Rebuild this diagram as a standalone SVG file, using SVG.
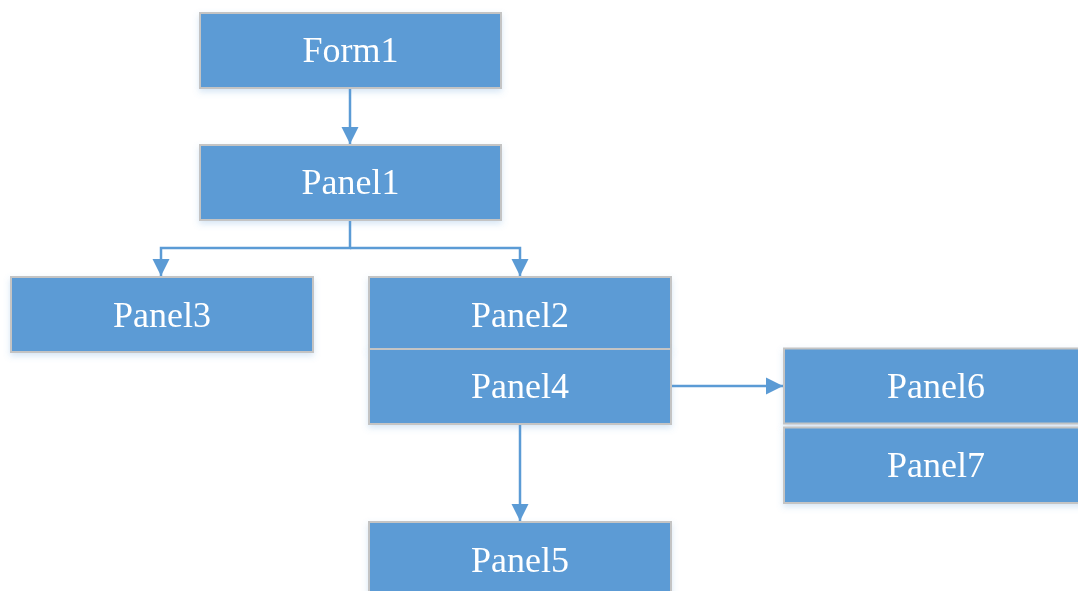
<svg xmlns="http://www.w3.org/2000/svg" width="1078" height="591" viewBox="0 0 1078 591">
<style>
.box{fill:#5B9BD5;stroke:#C4C4C4;stroke-width:2}
.lbl{font-family:"Liberation Serif","Times New Roman",serif;font-size:36px;fill:#FFFFFF;text-anchor:middle}
.conn{fill:none;stroke:#5B9BD5;stroke-width:2.5}
</style>
<defs>
<filter id="sh" x="-10%" y="-20%" width="120%" height="150%">
<feDropShadow dx="0" dy="3" stdDeviation="3" flood-color="#5B9BD5" flood-opacity="0.25"/>
</filter>
<marker id="arr" viewBox="0 0 10 10" refX="10" refY="5" markerWidth="7" markerHeight="7" markerUnits="strokeWidth" orient="auto">
<path d="M0,0 L10,5 L0,10 z" fill="#5B9BD5"/>
</marker>
</defs>
<g id="connectors">
<path class="conn" d="M350,88 V144" marker-end="url(#arr)"/>
<path class="conn" d="M350,220 V248 H161 V276" marker-end="url(#arr)"/>
<path class="conn" d="M350,248 H520 V276" marker-end="url(#arr)"/>
<path class="conn" d="M671,386 H783" marker-end="url(#arr)"/>
<path class="conn" d="M520,424 V521" marker-end="url(#arr)"/>
</g>
<g id="form1" filter="url(#sh)"><rect class="box" x="200" y="13" width="301" height="75"/><text class="lbl" x="350.5" y="62">Form1</text></g>
<g id="panel1" filter="url(#sh)"><rect class="box" x="200" y="145" width="301" height="75"/><text class="lbl" x="350.5" y="194">Panel1</text></g>
<g id="panel3" filter="url(#sh)"><rect class="box" x="11" y="277" width="302" height="75"/><text class="lbl" x="162" y="326.5">Panel3</text></g>
<g id="panel2" filter="url(#sh)"><rect class="box" x="369" y="277" width="302" height="72"/><text class="lbl" x="520" y="326.5">Panel2</text></g>
<g id="panel4" filter="url(#sh)"><rect class="box" x="369" y="349" width="302" height="75"/><text class="lbl" x="520" y="398">Panel4</text></g>
<g id="panel6" filter="url(#sh)"><rect class="box" x="784" y="348.5" width="300" height="75"/><text class="lbl" x="936" y="398">Panel6</text></g>
<g id="panel7" filter="url(#sh)"><rect class="box" x="784" y="427.5" width="300" height="75.5"/><text class="lbl" x="936" y="477">Panel7</text></g>
<g id="panel5" filter="url(#sh)"><rect class="box" x="369" y="522" width="302" height="75"/><text class="lbl" x="520" y="572">Panel5</text></g>
</svg>
